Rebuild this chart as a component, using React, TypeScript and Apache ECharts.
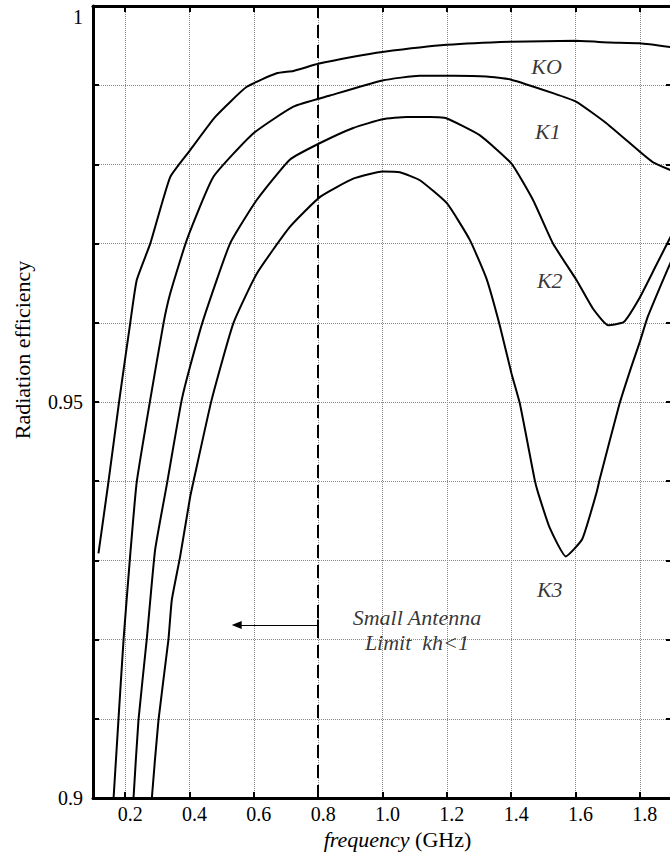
import React, { useEffect, useRef } from "react";
import * as echarts from "echarts";

const FONT = "Liberation Serif, Tinos, Times New Roman, DejaVu Serif, Noto Serif, serif";

// [frequency (GHz), radiation efficiency]
const k0: [number, number][] = [
  [0.117, 0.9309], [0.148, 0.9399], [0.182, 0.9503], [0.2155, 0.9599], [0.236, 0.9654],
  [0.278, 0.97], [0.34, 0.9784], [0.402, 0.9818], [0.48, 0.986], [0.578, 0.9898],
  [0.671, 0.9915], [0.723, 0.9918], [0.8, 0.9927], [0.909, 0.9936], [1.0, 0.9942],
  [1.2, 0.9951], [1.4, 0.9955], [1.6, 0.9956], [1.706, 0.9954], [1.8, 0.9953], [1.9, 0.9948],
];

const k1: [number, number][] = [
  [0.157, 0.895], [0.164, 0.9], [0.179, 0.9098], [0.195, 0.92], [0.2155, 0.9306],
  [0.236, 0.9399], [0.278, 0.9503], [0.319, 0.9599], [0.34, 0.9637], [0.392, 0.9705],
  [0.474, 0.9784], [0.598, 0.9839], [0.723, 0.9873], [0.837, 0.9887], [1.0, 0.9906],
  [1.116, 0.9912], [1.22, 0.9912], [1.323, 0.9911], [1.4, 0.9907], [1.53, 0.989],
  [1.603, 0.9879], [1.696, 0.9852], [1.8, 0.9816], [1.84, 0.9803], [1.9, 0.9792],
];

const k2: [number, number][] = [
  [0.22, 0.895], [0.226, 0.9], [0.2413, 0.9098], [0.267, 0.92], [0.293, 0.9313],
  [0.33, 0.9397], [0.35, 0.9444], [0.376, 0.9503], [0.402, 0.9545], [0.443, 0.9604],
  [0.526, 0.97], [0.609, 0.9755], [0.712, 0.9806], [0.806, 0.9827], [0.909, 0.9846],
  [1.0, 0.9857], [1.075, 0.986], [1.147, 0.986], [1.2, 0.9858], [1.302, 0.9837],
  [1.401, 0.9801], [1.468, 0.9755], [1.53, 0.97], [1.603, 0.9654], [1.654, 0.9618],
  [1.701, 0.9597], [1.75, 0.9601], [1.8, 0.9632], [1.85, 0.9672], [1.9, 0.9712],
];

const k3: [number, number][] = [
  [0.278, 0.895], [0.283, 0.9], [0.3035, 0.9098], [0.3345, 0.92], [0.345, 0.925],
  [0.371, 0.9305], [0.402, 0.938], [0.412, 0.9399], [0.469, 0.9503], [0.536, 0.9599],
  [0.609, 0.9662], [0.712, 0.9721], [0.806, 0.9759], [0.909, 0.9782], [1.0, 0.9791],
  [1.054, 0.979], [1.116, 0.978], [1.2, 0.9751], [1.271, 0.9705], [1.323, 0.9656],
  [1.365, 0.9596], [1.401, 0.9536], [1.427, 0.9498], [1.473, 0.9402], [1.484, 0.9385],
  [1.52, 0.9341], [1.57, 0.9305], [1.621, 0.9327], [1.665, 0.9385], [1.675, 0.9402],
  [1.737, 0.9498], [1.774, 0.9545], [1.8, 0.9576], [1.825, 0.9608], [1.872, 0.9654],
  [1.9, 0.968],
];

const curves = [k0, k1, k2, k3];
const curveNames = ["KO", "K1", "K2", "K3"];
const curveLabelPos: [number, number][] = [
  [1.51, 0.9923], [1.514, 0.9841], [1.52, 0.9654], [1.52, 0.9263],
];

const xTickValues = [0.2, 0.4, 0.6, 0.8, 1.0, 1.2, 1.4, 1.6, 1.8];
const xTickLabels = ["0.2", "0.4", "0.6", "0.8", "1.0", "1.2", "1.4", "1.6", "1.8"];
const yLabelValues = [0.9, 0.95, 1];
const yLabelText = ["0.9", "0.95", "1"];

const limitFreq = 0.8;
const limitNote = "Small Antenna\nLimit  kh<1";
const limitNotePos: [number, number] = [1.107, 0.9212];
const arrowStart: [number, number] = [0.8, 0.92184];
const arrowEnd: [number, number] = [0.5467, 0.92184];

const findIndex = (list: number[], v: number) =>
  list.findIndex((t) => Math.abs(t - v) < 1e-6);

export default function App() {
  const ref = useRef<HTMLDivElement>(null);

  useEffect(() => {
    if (!ref.current) return;
    const chart = echarts.init(ref.current, undefined, { renderer: "svg" });

    const axisLine = { show: true, onZero: false, lineStyle: { color: "#000", width: 3 } };
    const tick = { show: true, inside: true, length: 6, lineStyle: { color: "#000", width: 2 } };
    const grid = { show: true, lineStyle: { color: "#888", width: 1, type: "dotted" as const } };
    const labelFont = { fontFamily: FONT, fontSize: 20, color: "#000" };

    const option: any = {
      animation: false,
      backgroundColor: "#fff",
      textStyle: { fontFamily: FONT },
      grid: { left: 93, right: 8, top: 6, bottom: 62, containLabel: false },
      xAxis: [
        {
          type: "value",
          position: "bottom",
          min: 0.1,
          max: 1.9,
          axisLine,
          axisTick: { ...tick, customValues: xTickValues },
          splitLine: grid,
          axisLabel: {
            ...labelFont,
            margin: 6,
            padding: [0, 0, 0, 10],
            customValues: xTickValues,
            formatter: (v: number) => {
              const i = findIndex(xTickValues, v);
              return i < 0 ? "" : xTickLabels[i];
            },
          },
          name: "{i|frequency} (GHz)",
          nameLocation: "middle",
          nameGap: 28,
          nameTextStyle: {
            fontFamily: FONT,
            fontSize: 22,
            color: "#000",
            padding: [0, 0, 0, 30],
            rich: { i: { fontFamily: FONT, fontSize: 22, fontStyle: "italic", color: "#000" } },
          },
        },
        {
          type: "value",
          position: "top",
          min: 0.1,
          max: 1.9,
          axisLine,
          axisTick: { ...tick, customValues: xTickValues },
          splitLine: { show: false },
          axisLabel: { show: false },
        },
      ],
      yAxis: [
        {
          type: "value",
          position: "left",
          min: 0.9,
          max: 1.0,
          interval: 0.01,
          axisLine,
          axisTick: tick,
          splitLine: grid,
          axisLabel: {
            ...labelFont,
            margin: 10,
            formatter: (v: number) => {
              const i = findIndex(yLabelValues, v);
              if (i < 0) return "";
              return i === yLabelValues.length - 1 ? `{t|${yLabelText[i]}}` : yLabelText[i];
            },
            rich: { t: { ...labelFont, padding: [22, 0, 0, 0] } },
          },
          name: "Radiation efficiency",
          nameLocation: "middle",
          nameGap: 60,
          nameTextStyle: {
            fontFamily: FONT,
            fontSize: 22,
            color: "#000",
            padding: [0, 0, 0, 104],
          },
        },
        {
          type: "value",
          position: "right",
          min: 0.9,
          max: 1.0,
          interval: 0.01,
          axisLine,
          axisTick: tick,
          splitLine: { show: false },
          axisLabel: { show: false },
        },
      ],
      series: [
        ...curves.map((data, i) => ({
          type: "line",
          name: curveNames[i],
          data,
          showSymbol: false,
          smooth: 0.15,
          clip: true,
          silent: true,
          lineStyle: { color: "#000", width: 2 },
        })),
        {
          type: "scatter",
          name: "annotations",
          silent: true,
          symbolSize: 0,
          data: [
            ...curveNames.map((n, i) => ({ name: n, value: curveLabelPos[i] })),
            { name: limitNote, value: limitNotePos },
          ],
          label: {
            show: true,
            position: "inside",
            formatter: "{b}",
            fontFamily: FONT,
            fontSize: 22,
            fontStyle: "italic",
            color: "#000",
            lineHeight: 25,
            align: "center",
          },
          markLine: {
            silent: true,
            animation: false,
            label: { show: false },
            symbol: ["none", "none"],
            data: [
              {
                xAxis: limitFreq,
                lineStyle: { color: "#000", width: 2, type: [13, 7] },
              },
              [
                { coord: arrowStart, symbol: "none", lineStyle: { color: "#000", width: 1, type: "solid" } },
                { coord: arrowEnd, symbol: "triangle", symbolSize: [8, 10], symbolRotate: 90 },
              ],
              [
                { coord: [arrowStart[0], arrowStart[1] - 0.0007], symbol: "none", lineStyle: { color: "#000", width: 2, type: "solid" } },
                { coord: [arrowStart[0], arrowStart[1] + 0.0007], symbol: "none" },
              ],
            ],
          },
        },
      ],
    };

    chart.setOption(option);
    return () => chart.dispose();
  }, []);

  return (
    <div
      style={{
        position: "fixed",
        left: 0,
        top: 0,
        width: 670,
        height: 860,
        overflow: "hidden",
        background: "#fff",
      }}
    >
      <div ref={ref} style={{ width: 680, height: 860 }} />
    </div>
  );
}
